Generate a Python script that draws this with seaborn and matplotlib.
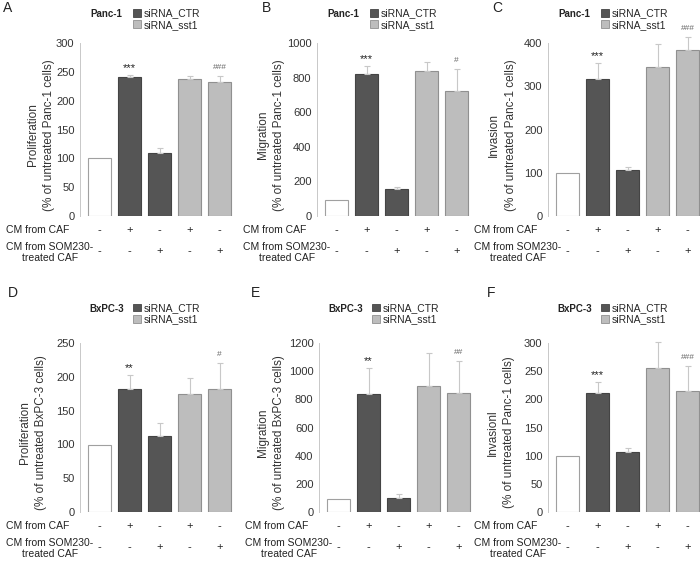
import numpy as np
import pandas as pd
import matplotlib
matplotlib.use('Agg')
import matplotlib.pyplot as plt
from matplotlib.patches import Patch
import seaborn as sns

sns.set_style('white')
plt.rcParams['font.family'] = ['Liberation Sans', 'DejaVu Sans']

# conditions (bar order) and the +/- table under each panel
conditions = ['untreated', 'CTR_CAF', 'CTR_SOM230', 'sst1_CAF', 'sst1_SOM230']
cm_caf = ['-', '+', '-', '+', '-']
cm_som = ['-', '-', '+', '-', '+']
legend_labels = ['siRNA_CTR', 'siRNA_sst1']

# panel texts
panel_letters = ['A', 'B', 'C', 'D', 'E', 'F']
cell_lines = ['Panc-1', 'Panc-1', 'Panc-1', 'BxPC-3', 'BxPC-3', 'BxPC-3']
ylabels = ['Proliferation\n(% of untreated Panc-1 cells)',
           'Migration\n(% of untreated Panc-1 cells)',
           'Invasion\n(% of untreated Panc-1 cells)',
           'Proliferation\n(% of untreated BxPC-3 cells)',
           'Migration\n(% of untreated BxPC-3 cells)',
           'Invasionl\n(% of untreated Panc-1 cells)']
ymax = [300, 1000, 400, 250, 1200, 300]
ystep = [50, 200, 100, 50, 200, 50]

# values (mean, upper error)
prolif_panc = [100, 241, 110, 237, 232]
prolif_panc_err = [0, 3, 8, 6, 11]
migr_panc = [93, 822, 154, 840, 724]
migr_panc_err = [0, 43, 16, 48, 125]
inv_panc = [100, 316, 107, 344, 384]
inv_panc_err = [0, 38, 7, 54, 31]
prolif_bx = [99, 182, 112, 175, 182]
prolif_bx_err = [0, 21, 19, 23, 39]
migr_bx = [93, 839, 102, 896, 845]
migr_bx_err = [0, 180, 28, 230, 225]
inv_bx = [100, 212, 106, 256, 215]
inv_bx_err = [0, 18, 8, 45, 45]

values = [prolif_panc, migr_panc, inv_panc, prolif_bx, migr_bx, inv_bx]
errors = [prolif_panc_err, migr_panc_err, inv_panc_err,
          prolif_bx_err, migr_bx_err, inv_bx_err]
stars = [['', '***', '', '', ''], ['', '***', '', '', ''], ['', '***', '', '', ''],
         ['', '**', '', '', ''], ['', '**', '', '', ''], ['', '***', '', '', '']]
hashes = [['', '', '', '', '###'], ['', '', '', '', '#'], ['', '', '', '', '###'],
          ['', '', '', '', '#'], ['', '', '', '', '##'], ['', '', '', '', '###']]

bar_colors = ['#ffffff', '#555555', '#555555', '#bdbdbd', '#bdbdbd']
edge_colors = ['#a0a0a0', '#444444', '#444444', '#909090', '#909090']
axis_gray = '#c8c8c8'

W, H = 700, 567
fig = plt.figure(figsize=(W / 100, H / 100), dpi=100)

# axes boxes in pixels: left, top, bottom (width is the same everywhere)
lefts = [80, 317, 548, 80, 319, 548]
tops = [43, 43, 43, 343, 343, 343]
bottoms = [216, 216, 216, 512, 512, 512]
width_px = 156
label_x = [-0.16, -0.205, -0.2, -0.21, -0.215, -0.21]
letter_xy = [(3, 8), (262, 8), (492, 8), (8, 293), (251, 293), (487, 293)]

for k in range(6):
    ax = fig.add_axes([lefts[k] / W, 1 - bottoms[k] / H, width_px / W,
                       (bottoms[k] - tops[k]) / H])
    df = pd.DataFrame({'cond': conditions, 'value': values[k]})
    sns.barplot(data=df, x='cond', y='value', hue='cond', order=conditions,
                hue_order=conditions, palette=bar_colors, dodge=False,
                width=0.77, legend=False, ax=ax, linewidth=0.8)
    for patch, ec in zip(ax.patches, edge_colors):
        patch.set_edgecolor(ec)

    err = np.array(errors[k])
    xs = np.arange(len(conditions))
    has = err > 0
    ax.errorbar(xs[has], np.array(values[k])[has],
                yerr=[np.zeros(has.sum()), err[has]], fmt='none',
                ecolor=axis_gray, elinewidth=0.8, capsize=2.5, capthick=0.8,
                clip_on=False)

    tops_val = np.array(values[k]) + err
    for i in range(len(conditions)):
        if stars[k][i]:
            ax.annotate(stars[k][i], xy=(i, tops_val[i]), xytext=(0, 5),
                        textcoords='offset points', ha='center', va='center',
                        fontsize=8, color='#222222', annotation_clip=False)
        if hashes[k][i]:
            ax.annotate(hashes[k][i], xy=(i, tops_val[i]), xytext=(0, 6),
                        textcoords='offset points', ha='center', va='center',
                        fontsize=6, color='#666666', annotation_clip=False)
        ax.annotate(cm_caf[i], xy=(i, 0), xycoords=('data', 'axes fraction'),
                    xytext=(0, -10), textcoords='offset points',
                    ha='center', va='center', fontsize=8, color='#222222')
        ax.annotate(cm_som[i], xy=(i, 0), xycoords=('data', 'axes fraction'),
                    xytext=(0, -25.5), textcoords='offset points',
                    ha='center', va='center', fontsize=8, color='#222222')

    ax.annotate('CM from CAF', xy=(0, 0), xycoords='axes fraction',
                xytext=(-53, -10), textcoords='offset points',
                ha='left', va='center', fontsize=7.5, color='#222222')
    ax.annotate('CM from SOM230-\ntreated CAF', xy=(0, 0), xycoords='axes fraction',
                xytext=(-53, -26.5), textcoords='offset points',
                ha='left', va='center', multialignment='center',
                fontsize=7.5, color='#222222', linespacing=1.1)

    ax.set_xlim(-0.65, 4.55)
    ax.set_ylim(0, ymax[k])
    ax.set_yticks(np.arange(0, ymax[k] + 1, ystep[k]))
    ax.set_xticks([])
    ax.set_xlabel('')
    ax.set_ylabel(ylabels[k], fontsize=8.5, color='#333333', linespacing=1.5)
    ax.yaxis.set_label_coords(label_x[k], 0.47)
    ax.tick_params(axis='y', labelsize=8, colors='#333333', length=3,
                   width=0.6, color=axis_gray, pad=1)
    for side in ['top', 'right', 'bottom']:
        ax.spines[side].set_visible(False)
    ax.spines['left'].set_color(axis_gray)
    ax.spines['left'].set_linewidth(0.7)

    ax.text(0.17, 1.17 if k < 3 else 1.2, cell_lines[k], transform=ax.transAxes,
            ha='center', va='center', fontsize=7, fontweight='bold', color='#222222')
    handles = [Patch(facecolor=bar_colors[1], edgecolor=edge_colors[1], linewidth=0.6),
               Patch(facecolor=bar_colors[3], edgecolor=edge_colors[3], linewidth=0.6)]
    ax.legend(handles, legend_labels, loc='upper left',
              bbox_to_anchor=(0.34, 1.2 if k < 3 else 1.235), frameon=False,
              fontsize=7.5, handlelength=0.75, handleheight=0.75,
              handletextpad=0.25, labelspacing=0.12, borderpad=0, borderaxespad=0)

    lx, ly = letter_xy[k]
    fig.text(lx / W, 1 - ly / H, panel_letters[k], ha='left', va='center',
             fontsize=10, color='#222222')

fig.savefig('out.png', dpi=100)
